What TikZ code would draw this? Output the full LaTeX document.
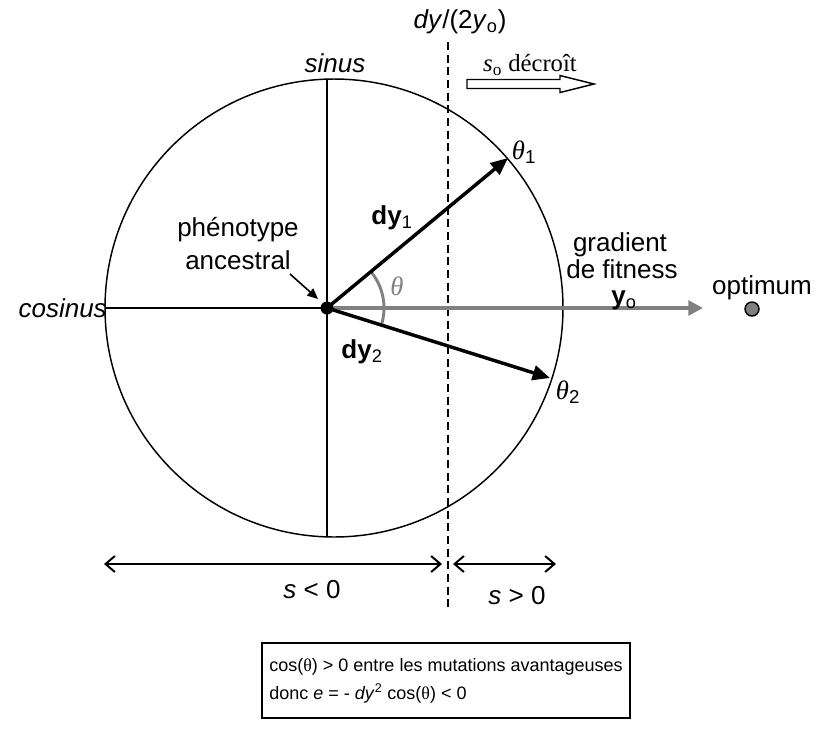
\documentclass[tikz,border=0pt]{standalone}
\usepackage{fontspec}
\setmainfont{Liberation Sans}
\newfontfamily\serifface{Liberation Serif}
\usetikzlibrary{arrows.meta}
\begin{document}
\begin{tikzpicture}[x=0.75pt,y=-0.75pt,
  lab/.style={font=\fontsize{19.5}{22}\selectfont, inner sep=0pt},
  greek/.style={font=\serifface\itshape\fontsize{20}{22}\selectfont, inner sep=0pt},
  axisline/.style={line width=1.1pt},
  vec/.style={line width=2.6pt, -{Triangle[length=13pt,width=11pt]}},
  gvec/.style={draw=gray, line width=3pt, -{Triangle[length=11pt,width=11pt]}},
  ptr/.style={line width=1.2pt, -{Triangle[length=8pt,width=7pt]}},
  dim/.style={line width=1.5pt, {Straight Barb[length=7pt,width=12pt]}-{Straight Barb[length=7pt,width=12pt]}},
  boxstyle/.style={draw, line width=1.1pt, minimum width=276pt, minimum height=56pt,
    align=left, inner xsep=4pt, font=\fontsize{13.5}{21}\selectfont}
]
\useasboundingbox (0,0) rectangle (819,744);
\coordinate (O) at (327,308);
\coordinate (C) at (334,308);
\coordinate (Top) at (327,79);
\coordinate (Bot) at (327,537);
\coordinate (Left) at (105,308);
\coordinate (T1) at (508,158);
\coordinate (T2) at (550,378);
\coordinate (Yo) at (703,308);
\coordinate (Dtop) at (448,42);
\coordinate (Dbot) at (448,607);
\coordinate (LA) at (104,564);
\coordinate (LB) at (442,564);
\coordinate (RA) at (453,564);
\coordinate (RB) at (556,564);
\coordinate (Pa) at (290,274);
\coordinate (Pb) at (318,299);
\coordinate (Opt) at (752,309);

% circle and axes
\draw[axisline] (C) circle[radius=229];
\draw[axisline] (Top) -- (Bot);
\draw[axisline] (Left) -- (O);

% dashed threshold
\draw[line width=1.1pt, dash pattern=on 6pt off 3.5pt] (Dtop) -- (Dbot);

% gradient arrow
\draw[gvec] (O) -- (Yo);
% angle arc
\draw[gray, line width=2.2pt] ([shift={(-39.6:57)}]O) arc[start angle=-39.6, end angle=17.4, radius=57];
% mutation vectors
\draw[vec] (O) -- (T1);
\draw[vec] (O) -- (T2);
\fill (O) circle[radius=6.5];

% pointer
\draw[ptr] (Pa) -- (Pb);

% optimum
\filldraw[fill=gray, draw=black, line width=1.1pt] (Opt) circle[radius=7];

% hollow arrow
\draw[line width=1.1pt, fill=white] (467,79.5) -- (560,79.5) -- (560,75.5) -- (594,84) -- (560,92.5) -- (560,88.5) -- (467,88.5) -- cycle;

% bottom arrows
\draw[dim] (LA) -- (LB);
\draw[dim] (RA) -- (RB);

% labels
\node[lab] (sinus) at (335,63) {\textit{sinus}};
\node[lab, anchor=east] (cosinus) at (107,308) {\textit{cosinus}};
\node[lab] (ph1) at (238,230) {phénotype};
\node[lab] (ph2) at (238,260) {ancestral};
\node[lab] (grad1) at (620,245) {gradient};
\node[lab] (grad2) at (622,269) {de fitness};
\node[lab] (yolab) at (624,300) {\textbf{y}\textsubscript{o}};
\node[lab] (optlab) at (762,288) {optimum};
\node[lab] (dy1) at (392,218) {\textbf{dy}\textsubscript{1}};
\node[lab] (dy2) at (362,352) {\textbf{dy}\textsubscript{2}};
\node[greek, text=gray] (th) at (397,286) {θ};
\node[greek] (th1) at (524,152) {θ\textsubscript{\normalfont\rmfamily 1}};
\node[greek] (th2) at (568,392) {θ\textsubscript{\normalfont\rmfamily 2}};
\node[lab] (thr) at (460,22) {\textit{dy}/(2\textit{y}\textsubscript{o})};
\node[inner sep=0pt, font=\serifface\fontsize{18.5}{20}\selectfont] (sodec) at (530,65) {\textit{s}\textsubscript{o} décroît};
\node[lab] (sneg) at (312,590) {\textit{s} < 0};
\node[lab] (spos) at (517,596) {\textit{s} > 0};

% bottom box
\node[boxstyle] (box) at (446,680.5) {cos({\serifface θ}) > 0 entre les mutations avantageuses\\ donc \textit{e} = - \textit{dy}\textsuperscript{2} cos({\serifface θ}) < 0};
\end{tikzpicture}
\end{document}
